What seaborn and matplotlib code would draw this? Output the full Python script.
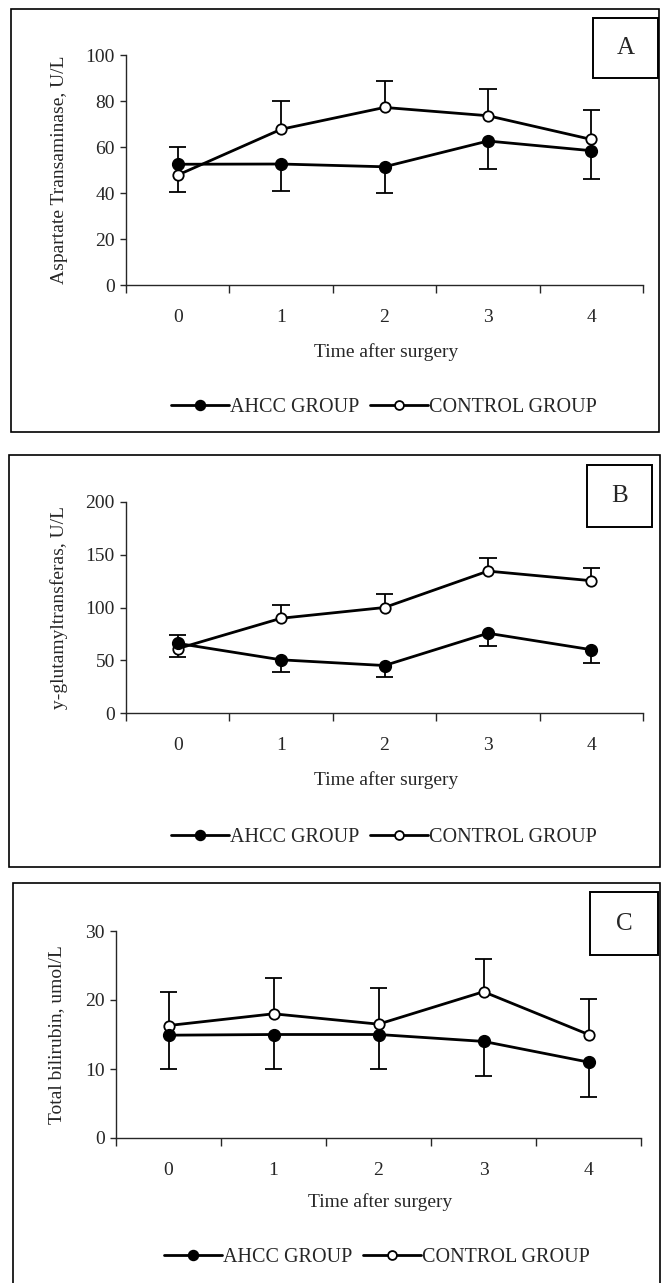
import numpy as np
import pandas as pd
import matplotlib
matplotlib.use("Agg")
import matplotlib.pyplot as plt
from matplotlib.patches import Rectangle
import seaborn as sns

# ---------------- data ----------------
time_points = [0, 1, 2, 3, 4]
time_labels = ["0", "1", "2", "3", "4"]
group_names = ["AHCC GROUP", "CONTROL GROUP"]

ast_ahcc = [52.5, 52.6, 51.4, 62.6, 58.4]
ast_ahcc_err = [12.0, 11.7, 11.3, 12.3, 12.2]
ast_ctrl = [47.8, 67.7, 77.2, 73.6, 63.3]
ast_ctrl_err = [12.2, 12.3, 11.6, 11.6, 12.8]

ggt_ahcc = [66.0, 50.4, 45.0, 75.6, 60.0]
ggt_ahcc_err = [12.5, 12.0, 11.0, 12.5, 13.0]
ggt_ctrl = [61.0, 89.8, 100.0, 134.5, 125.4]
ggt_ctrl_err = [13.0, 12.6, 12.4, 12.5, 11.6]

bil_ahcc = [14.9, 15.0, 15.0, 14.0, 11.0]
bil_ahcc_err = [4.9, 5.0, 5.0, 5.0, 5.1]
bil_ctrl = [16.3, 18.0, 16.5, 21.2, 15.0]
bil_ctrl_err = [4.9, 5.2, 5.2, 4.8, 5.2]

ylabels = ["Aspartate Transaminase, U/L", "y-glutamyltransferas, U/L", "Total bilirubin, umol/L"]
panel_letters = ["A", "B", "C"]
y_ticks = [[0, 20, 40, 60, 80, 100], [0, 50, 100, 150, 200], [0, 10, 20, 30]]
x_title = "Time after surgery"

# ---------------- style ----------------
sns.set_style("ticks")
plt.rcParams["font.family"] = ["Liberation Serif", "DejaVu Serif"]
plt.rcParams["axes.linewidth"] = 1.0

W, H = 661, 1283
fig = plt.figure(figsize=(W / 100, H / 100), dpi=100)


def fx(x):
    return x / W


def fy(y):
    return 1 - y / H


# layout in pixels (styling only)
layouts = [
    dict(ax=(126, 55, 643, 285), border=(11, 9, 659, 432), box=(593, 18, 658, 78),
         xlab=(386, 352), leg=(384, 407), ylab_x=-0.113),
    dict(ax=(126, 502, 643, 713), border=(9, 455, 660, 867), box=(587, 465, 652, 527),
         xlab=(386, 780), leg=(384, 837), ylab_x=-0.113),
    dict(ax=(116, 931, 641, 1138), border=(13, 883, 660, 1300), box=(590, 892, 658, 955),
         xlab=(380, 1202), leg=(377, 1257), ylab_x=-0.097),
]

datasets = [
    (ast_ahcc, ast_ahcc_err, ast_ctrl, ast_ctrl_err),
    (ggt_ahcc, ggt_ahcc_err, ggt_ctrl, ggt_ctrl_err),
    (bil_ahcc, bil_ahcc_err, bil_ctrl, bil_ctrl_err),
]

for i, (lay, (a, ae, c, ce)) in enumerate(zip(layouts, datasets)):
    l, t, r, b = lay["ax"]
    ax = fig.add_axes([fx(l), fy(b), (r - l) / W, (b - t) / H])

    x = np.array(time_points, dtype=float)
    a = np.array(a); ae = np.array(ae); c = np.array(c); ce = np.array(ce)
    cap = 0.085
    # one-sided error bars: AHCC downward, control upward
    ax.vlines(x, a - ae, a, color="black", lw=1.3, zorder=2)
    ax.hlines(a - ae, x - cap, x + cap, color="black", lw=1.3, zorder=2)
    ax.vlines(x, c, c + ce, color="black", lw=1.3, zorder=2)
    ax.hlines(c + ce, x - cap, x + cap, color="black", lw=1.3, zorder=2)

    df = pd.DataFrame({"time": x, "AHCC": a, "CONTROL": c})
    sns.lineplot(data=df, x="time", y="CONTROL", ax=ax, color="black", lw=2.0,
                 marker="o", markersize=7.5, markerfacecolor="white",
                 markeredgecolor="black", markeredgewidth=1.3,
                 label=group_names[1], zorder=3)
    sns.lineplot(data=df, x="time", y="AHCC", ax=ax, color="black", lw=2.0,
                 marker="o", markersize=8.5, markerfacecolor="black",
                 markeredgecolor="black", markeredgewidth=1.0,
                 label=group_names[0], zorder=4)

    ax.set_xlim(-0.5, 4.5)
    ax.set_ylim(y_ticks[i][0], y_ticks[i][-1])
    ax.set_yticks(y_ticks[i])
    ax.set_yticklabels([str(v) for v in y_ticks[i]])
    ax.set_xticks(np.arange(-0.5, 5.0, 1.0))
    ax.set_xticklabels([])
    ax.set_xticks(time_points, minor=True)
    ax.set_xticklabels(time_labels, minor=True)
    ax.tick_params(axis="x", which="major", length=6, width=1, direction="out")
    ax.tick_params(axis="x", which="minor", length=0, pad=17, labelsize=14)
    ax.tick_params(axis="y", length=4, width=1, direction="out", pad=4, labelsize=14)
    for s in ["top", "right"]:
        ax.spines[s].set_visible(False)
    for s in ["left", "bottom"]:
        ax.spines[s].set_linewidth(1.0)

    ax.set_xlabel("")
    ax.set_ylabel(ylabels[i], fontsize=14)
    ax.yaxis.set_label_coords(lay["ylab_x"], 0.5)

    fig.text(fx(lay["xlab"][0]), fy(lay["xlab"][1]), x_title, ha="center", va="center",
             fontsize=14)

    h, lbl = ax.get_legend_handles_labels()
    order = [lbl.index(group_names[0]), lbl.index(group_names[1])]
    ax.legend([h[k] for k in order], [lbl[k] for k in order], loc="center",
              bbox_to_anchor=(fx(lay["leg"][0]), fy(lay["leg"][1])),
              bbox_transform=fig.transFigure, ncol=2, frameon=False, fontsize=14.5,
              handlelength=2.9, handletextpad=0.05, columnspacing=0.5, borderpad=0,
              markerscale=0.85)

    bl, bt, br, bb = lay["border"]
    fig.add_artist(Rectangle((fx(bl), fy(bb)), (br - bl) / W, (bb - bt) / H,
                             transform=fig.transFigure, fill=False, ec="black",
                             lw=1.2, clip_on=False))
    kl, kt, kr, kb = lay["box"]
    fig.add_artist(Rectangle((fx(kl), fy(kb)), (kr - kl) / W, (kb - kt) / H,
                             transform=fig.transFigure, fill=False, ec="black",
                             lw=1.4, clip_on=False))
    fig.text(fx((kl + kr) / 2), fy((kt + kb) / 2), panel_letters[i], ha="center",
             va="center", fontsize=18)

fig.savefig("out.png", dpi=100)
